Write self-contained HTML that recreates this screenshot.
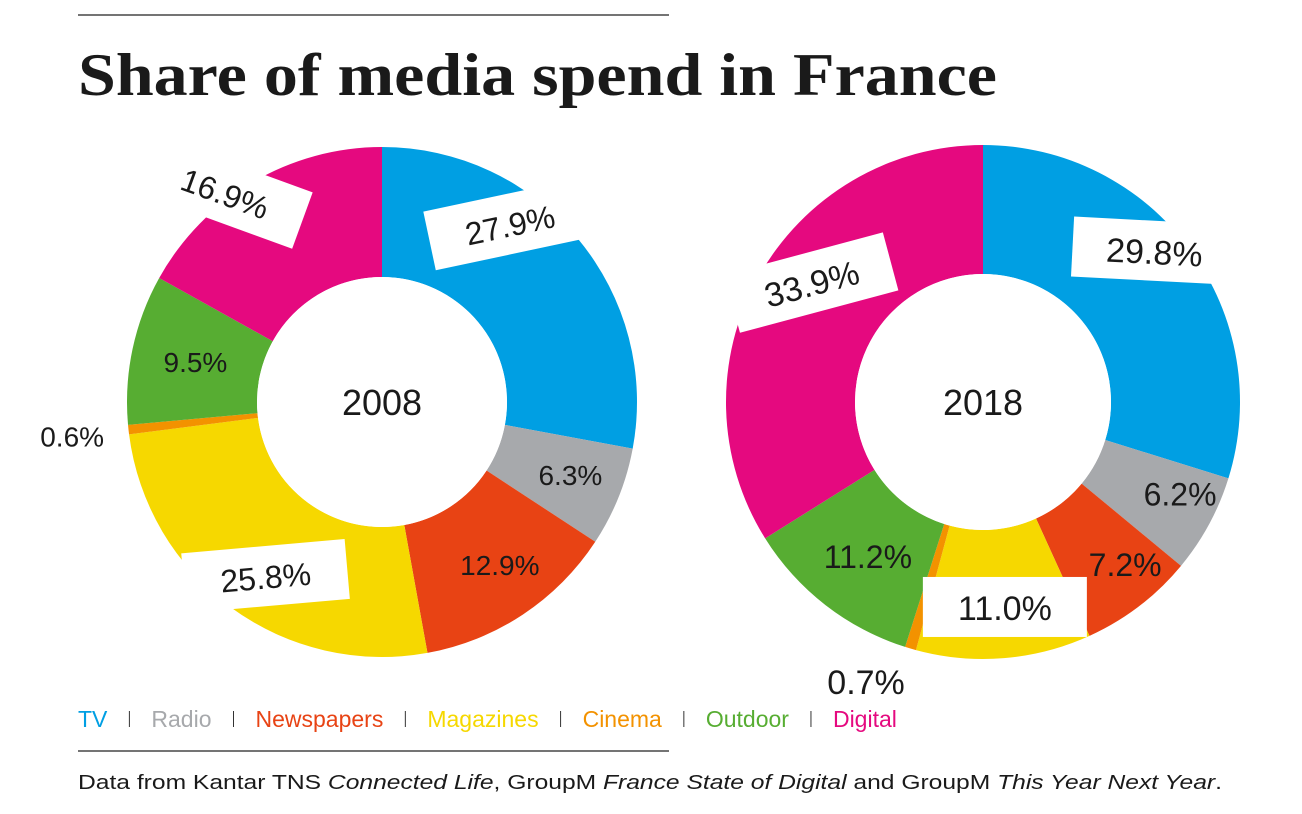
<!DOCTYPE html>
<html><head><meta charset="utf-8"><style>
body{margin:0;background:#fff;width:1302px;height:809px;overflow:hidden;font-family:"Liberation Sans",sans-serif}
</style></head><body>
<svg width="1302" height="809" xmlns="http://www.w3.org/2000/svg" id="chart">
<line x1="78" y1="15" x2="669" y2="15" stroke="#222" stroke-width="1.2"/>
<text x="78" y="95" font-family="Liberation Serif,serif" font-weight="bold" font-size="60" fill="#1a1a1a" textLength="919" lengthAdjust="spacingAndGlyphs">Share of media spend in France</text>
<g id="pies"></g>
<g id="legend" font-size="23"></g>
<line x1="78" y1="751" x2="669" y2="751" stroke="#222" stroke-width="1.2"/>
<text x="78" y="789" font-size="20" fill="#1a1a1a" textLength="1144" lengthAdjust="spacingAndGlyphs">Data from Kantar TNS <tspan font-style="italic">Connected Life</tspan>, GroupM <tspan font-style="italic">France State of Digital</tspan> and GroupM <tspan font-style="italic">This Year Next Year</tspan>.</text>
</svg>
<script>
const categories=["TV","Radio","Newspapers","Magazines","Cinema","Outdoor","Digital"];
const colors=["#009fe3","#a7a9ac","#e84314","#f6d800","#f39200","#57ad32","#e5097f"];
const values2008=[27.9,6.3,12.9,25.8,0.6,9.5,16.9];
const values2018=[29.8,6.2,7.2,11.0,0.7,11.2,33.9];
const years=["2008","2018"];
const NS="http://www.w3.org/2000/svg";
const pies=document.getElementById('pies');
function mk(t,a,p){const e=document.createElementNS(NS,t);for(const k in a)e.setAttribute(k,a[k]);(p||pies).appendChild(e);return e;}
const lay=[
 [[0.78,0,-12,1,-25,-50,32],[0.83,0,0,0,-8,-6,28],[0.78,0,0,0,8,-3,28],[0.75,8,-5,1,17,38,32],[1.25,0,0,0,7,0,28],[0.72,0,0,0,-7,-2,28],[0.76,-2,20,1,-53,-45,32]],
 [[0.78,8,3,1,-5,-55,34],[0.85,0,0,0,5,-12,32],[0.82,0,0,0,14,-5,32],[0.82,14,0,1,56,-2,34],[1.07,-4,0,0,-58,11,34],[0.75,0,0,0,3,2,32],[0.78,12,-15,1,-20,13,34]]
];
function pol(cx,cy,r,a){return [cx+r*Math.sin(a),cy-r*Math.cos(a)];}
function donut(vals,cx,cy,R,r,year,li){
 const tot=vals.reduce((a,b)=>a+b,0);let a0=0;
 vals.forEach((v,i)=>{
  const a1=a0+v/tot*2*Math.PI;const big=a1-a0>Math.PI?1:0;
  const [x0,y0]=pol(cx,cy,R,a0),[x1,y1]=pol(cx,cy,R,a1),[x2,y2]=pol(cx,cy,r,a1),[x3,y3]=pol(cx,cy,r,a0);
  const p=mk('path',{d:`M${x0},${y0}A${R},${R} 0 ${big} 1 ${x1},${y1}L${x2},${y2}A${r},${r} 0 ${big} 0 ${x3},${y3}Z`,fill:colors[i]});
  
  
  a0=a1;
 });
 mk('circle',{cx,cy,r,fill:'#fff'});
 a0=0;
 vals.forEach((v,i)=>{
  const L=lay[li][i];const mid=a0+v/tot*Math.PI+L[1]*Math.PI/180;a0+=v/tot*2*Math.PI;
  let [lx,ly]=pol(cx,cy,R*L[0],mid);lx+=L[4];ly+=L[5];
  const g=mk('g',{transform:`translate(${lx},${ly}) rotate(${L[2]})`});
  
  
  const txt=v.toFixed(1)+'%';
  const fs=L[6];
  if(L[3]){mk('rect',{x:-82,y:-31,width:164,height:60,fill:'#fff'},g);}
  const t=mk('text',{x:0,y:fs*0.36,'text-anchor':'middle','font-size':fs,fill:'#1a1a1a'},g);t.textContent=txt;
 });
 const t=mk('text',{x:cx,y:cy+13,'text-anchor':'middle','font-size':36,fill:'#1a1a1a'});t.textContent=year;
 
}
donut(values2008,382,402,255,125,years[0],0);
donut(values2018,983,402,257,128,years[1],1);
const lg=document.getElementById('legend');let x=78;
categories.forEach((c,i)=>{
 const t=document.createElementNS(NS,'text');t.setAttribute('x',x);t.setAttribute('y',727);t.setAttribute('fill',colors[i]);t.textContent=c;
 
 
 lg.appendChild(t);const w=t.getComputedTextLength();x+=w+22;
 if(i<categories.length-1){const s=document.createElementNS(NS,'line');s.setAttribute('x1',x);s.setAttribute('x2',x);s.setAttribute('y1',711);s.setAttribute('y2',727);s.setAttribute('stroke','#333');
 
 
 lg.appendChild(s);x+=22;}
});
</script>
</body></html>
